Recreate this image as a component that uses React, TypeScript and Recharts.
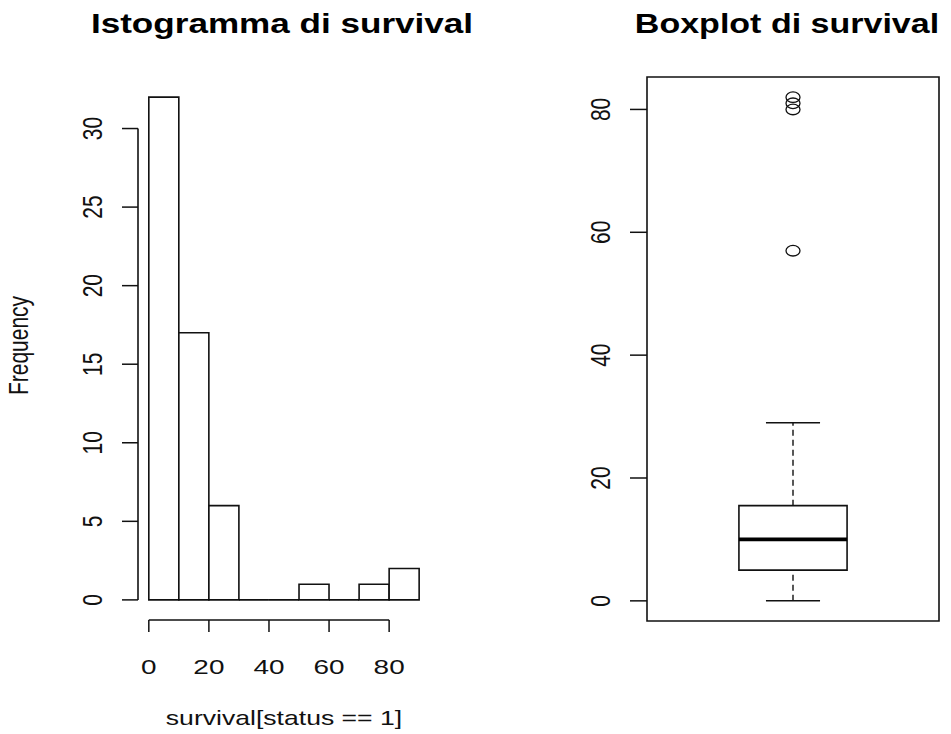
import React from 'react';
import {
  ComposedChart,
  Bar,
  XAxis,
  YAxis,
  ReferenceLine,
  ReferenceArea,
  Scatter,
  Label,
} from 'recharts';

// Histogram of survival[status == 1]: bins of width 10 from 0 to 90
const binMids = [5, 15, 25, 35, 45, 55, 65, 75, 85];
const binCounts = [32, 17, 6, 0, 0, 1, 0, 1, 2];
const histXTicks = [0, 20, 40, 60, 80];
const histYTicks = [0, 5, 10, 15, 20, 25, 30];

// Boxplot summary of survival
const boxFive = [0, 5, 10, 15.5, 29]; // lower whisker, Q1, median, Q3, upper whisker
const outlierValues = [57, 80, 81, 82];
const boxYTicks = [0, 20, 40, 60, 80];

// R-style axis extension (4% on each side)
const pad = (lo: number, hi: number): [number, number] => {
  const d = (hi - lo) * 0.04;
  return [lo - d, hi + d];
};

const histXDomain = pad(0, 90);
const histYDomain = pad(0, Math.max(...binCounts));
const boxXDomain = pad(0.5, 1.5);
const boxYDomain = pad(0, Math.max(...outlierValues));

const histData = binMids.map((mid, i) => ({ mid, count: binCounts[i] }));
const outlierData = outlierValues.map((y) => ({ x: 1, y }));

const FONT = 'Arial, "Liberation Sans", Helvetica, sans-serif';
const SX = 1.33; // horizontal text stretch
const INK = '#111';

const HistRect = (props: any) => {
  const { x, y, width, height } = props;
  if (x == null || y == null) return null;
  const h = height || 0;
  return (
    <path
      d={`M${x},${y}h${width}v${h}h${-width}Z`}
      fill="#fff"
      stroke={INK}
      strokeWidth={1.6}
    />
  );
};

const YTick = (props: any) => {
  const { x, y, payload } = props;
  return (
    <text
      transform={`translate(${x - 20},${y}) scale(${SX},1) rotate(-90)`}
      textAnchor="middle"
      fontFamily={FONT}
      fontSize={21}
      fill={INK}
    >
      {payload.value}
    </text>
  );
};

const XTick = (props: any) => {
  const { x, y, payload } = props;
  return (
    <text
      transform={`translate(${x},${y + 42}) scale(${SX},1)`}
      textAnchor="middle"
      fontFamily={FONT}
      fontSize={21}
      fill={INK}
    >
      {payload.value}
    </text>
  );
};

const OutlierMark = (props: any) => {
  const { cx, cy } = props;
  if (cx == null || cy == null) return null;
  return <ellipse cx={cx} cy={cy} rx={7} ry={5.3} fill="none" stroke={INK} strokeWidth={1.3} />;
};

const Title = ({ x, text, sx }: { x: number; text: string; sx: number }) => (
  <text
    transform={`translate(${x},33) scale(${sx},1)`}
    textAnchor="middle"
    fontFamily={FONT}
    fontWeight="bold"
    fontSize={27}
    fill="#000"
  >
    {text}
  </text>
);

export default function App() {
  const [q0, q1, med, q3, q4] = boxFive;
  return (
    <div
      style={{
        position: 'absolute',
        left: 0,
        top: 0,
        width: 951,
        height: 734,
        background: '#fff',
        overflow: 'hidden',
      }}
    >
      <div style={{ position: 'absolute', left: 0, top: 0 }}>
        <ComposedChart
          width={480}
          height={734}
          data={histData}
          margin={{ top: 77, right: 50, bottom: 0, left: 0 }}
          barCategoryGap={0}
          barGap={0}
        >
          <XAxis
            dataKey="mid"
            type="number"
            domain={histXDomain}
            ticks={histXTicks}
            allowDataOverflow
            interval={0}
            height={114}
            tickSize={12}
            tickMargin={0}
            axisLine={false}
            stroke={INK}
            tickLine={{ stroke: INK, strokeWidth: 1.5 }}
            tick={(p: any) => <XTick {...p} />}
          >
            <Label
              content={(p: any) => {
                const vb = p.viewBox || {};
                return (
                  <text
                    transform={`translate(${vb.x + vb.width / 2},${vb.y + 105}) scale(${SX},1)`}
                    textAnchor="middle"
                    fontFamily={FONT}
                    fontSize={20}
                    fill={INK}
                  >
                    survival[status == 1]
                  </text>
                );
              }}
            />
          </XAxis>
          <YAxis
            type="number"
            domain={histYDomain}
            ticks={histYTicks}
            allowDataOverflow
            interval={0}
            width={138}
            tickSize={16}
            tickMargin={0}
            axisLine={false}
            stroke={INK}
            tickLine={{ stroke: INK, strokeWidth: 1.5 }}
            tick={(p: any) => <YTick {...p} />}
          >
            <Label
              content={(p: any) => {
                const vb = p.viewBox || {};
                return (
                  <text
                    transform={`translate(28,${vb.y + vb.height / 2 - 3}) scale(${SX},1) rotate(-90)`}
                    textAnchor="middle"
                    fontFamily={FONT}
                    fontSize={21}
                    fill={INK}
                  >
                    Frequency
                  </text>
                );
              }}
            />
          </YAxis>
          <ReferenceLine
            segment={[
              { x: histXTicks[0], y: histYDomain[0] },
              { x: histXTicks[histXTicks.length - 1], y: histYDomain[0] },
            ]}
            stroke={INK}
            strokeWidth={1.5}
            ifOverflow="visible"
          />
          <ReferenceLine
            segment={[
              { x: histXDomain[0], y: histYTicks[0] },
              { x: histXDomain[0], y: histYTicks[histYTicks.length - 1] },
            ]}
            stroke={INK}
            strokeWidth={1.6}
            ifOverflow="visible"
          />
          <Bar dataKey="count" shape={HistRect} isAnimationActive={false} />
        </ComposedChart>
      </div>

      <div style={{ position: 'absolute', left: 480, top: 0 }}>
        <ComposedChart
          width={471}
          height={734}
          margin={{ top: 77, right: 12, bottom: 113, left: 0 }}
        >
          <XAxis type="number" dataKey="x" domain={boxXDomain} allowDataOverflow hide />
          <YAxis
            type="number"
            dataKey="y"
            domain={boxYDomain}
            ticks={boxYTicks}
            allowDataOverflow
            interval={0}
            width={167}
            tickSize={17}
            tickMargin={0}
            axisLine={false}
            stroke={INK}
            tickLine={{ stroke: INK, strokeWidth: 1.5 }}
            tick={(p: any) => <YTick {...p} />}
          />
          <ReferenceArea
            x1={boxXDomain[0]}
            x2={boxXDomain[1]}
            y1={boxYDomain[0]}
            y2={boxYDomain[1]}
            fill="none"
            stroke={INK}
            strokeWidth={1.6}
            ifOverflow="visible"
          />
          <ReferenceLine
            segment={[{ x: 1, y: q0 }, { x: 1, y: q1 }]}
            stroke={INK}
            strokeWidth={1.4}
            strokeDasharray="6 4"
          />
          <ReferenceLine
            segment={[{ x: 1, y: q3 }, { x: 1, y: q4 }]}
            stroke={INK}
            strokeWidth={1.4}
            strokeDasharray="6 4"
          />
          <ReferenceLine
            segment={[{ x: 0.9, y: q0 }, { x: 1.1, y: q0 }]}
            stroke={INK}
            strokeWidth={1.5}
          />
          <ReferenceLine
            segment={[{ x: 0.9, y: q4 }, { x: 1.1, y: q4 }]}
            stroke={INK}
            strokeWidth={1.5}
          />
          <ReferenceArea
            x1={0.8}
            x2={1.2}
            y1={q1}
            y2={q3}
            fill="#fff"
            fillOpacity={1}
            stroke={INK}
            strokeWidth={1.6}
          />
          <ReferenceLine
            segment={[{ x: 0.8, y: med }, { x: 1.2, y: med }]}
            stroke="#000"
            strokeWidth={3.6}
          />
          <Scatter data={outlierData} dataKey="y" shape={OutlierMark} isAnimationActive={false} />
        </ComposedChart>
      </div>

      <svg
        width={951}
        height={734}
        style={{ position: 'absolute', left: 0, top: 0, pointerEvents: 'none' }}
      >
        <Title x={282} text="Istogramma di survival" sx={1.3} />
        <Title x={787} text="Boxplot di survival" sx={1.26} />
      </svg>
    </div>
  );
}
